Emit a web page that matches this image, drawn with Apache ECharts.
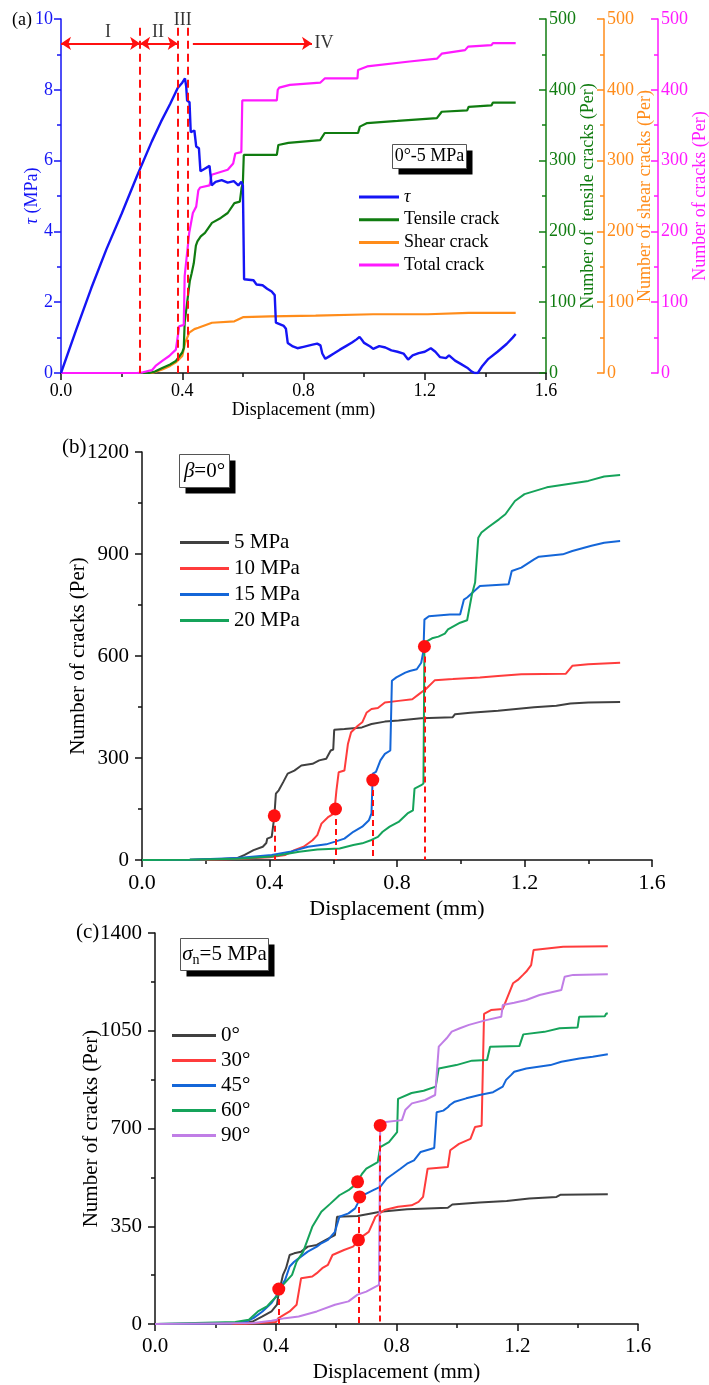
<!DOCTYPE html>
<html>
<head>
<meta charset="utf-8">
<script src="https://cdn.jsdelivr.net/npm/echarts@6/dist/echarts.min.js"></script>
<style>
  html, body { margin: 0; padding: 0; background: #fff; }
  #chart { width: 709px; height: 1385px; }
</style>
</head>
<body>
<div id="chart"></div>
<script>
// ---------- (a) shear stress and crack counts, 0°-5 MPa ----------
const tauCurve = [[0,0],[0.05,1.22],[0.1,2.4],[0.15,3.5],[0.2,4.5],[0.25,5.55],[0.3,6.55],[0.33,7.1],[0.36,7.6],[0.385,8.05],[0.4,8.2],[0.409,8.32],[0.413,8.1],[0.416,7.7],[0.424,7.65],[0.428,6.8],[0.44,6.85],[0.446,6.4],[0.455,6.35],[0.46,5.7],[0.47,5.75],[0.49,5.85],[0.497,5.3],[0.51,5.4],[0.53,5.45],[0.55,5.38],[0.57,5.42],[0.585,5.3],[0.595,5.4],[0.6,5.3],[0.604,2.65],[0.635,2.62],[0.645,2.5],[0.665,2.48],[0.68,2.38],[0.695,2.3],[0.705,2.2],[0.709,1.42],[0.735,1.33],[0.742,1.25],[0.748,0.85],[0.765,0.75],[0.78,0.7],[0.8,0.74],[0.83,0.8],[0.845,0.83],[0.856,0.78],[0.862,0.55],[0.872,0.4],[0.885,0.47],[0.9,0.55],[0.92,0.66],[0.94,0.76],[0.96,0.86],[0.975,0.95],[0.985,1.02],[0.993,0.93],[1.0,0.85],[1.02,0.75],[1.03,0.68],[1.05,0.76],[1.07,0.72],[1.09,0.64],[1.11,0.6],[1.13,0.55],[1.145,0.38],[1.16,0.5],[1.18,0.56],[1.2,0.6],[1.22,0.7],[1.235,0.6],[1.25,0.45],[1.27,0.42],[1.28,0.5],[1.3,0.35],[1.32,0.25],[1.34,0.15],[1.355,0.04],[1.365,0],[1.375,0],[1.39,0.2],[1.41,0.4],[1.44,0.6],[1.47,0.82],[1.49,1.0],[1.5,1.1]];
const tensileCrack = [[0,0],[0.29,0],[0.31,2],[0.334,7],[0.36,12],[0.379,17],[0.4,29],[0.405,35],[0.408,71],[0.416,99],[0.425,130],[0.431,141],[0.438,155],[0.445,180],[0.45,186],[0.461,193],[0.475,198],[0.498,212],[0.527,219],[0.55,226],[0.572,240],[0.59,242],[0.596,262],[0.6,268],[0.603,308],[0.712,308],[0.717,322],[0.75,325],[0.855,329],[0.87,339],[0.98,339],[0.986,348],[1.01,353],[1.11,356],[1.24,360],[1.256,369],[1.34,371],[1.345,376],[1.42,378],[1.425,382],[1.5,382]];
const shearCrack = [[0,0],[0.3,0],[0.334,5],[0.36,10],[0.379,15],[0.4,24],[0.41,43],[0.423,57],[0.44,62],[0.453,64],[0.498,71],[0.572,73],[0.602,79],[0.69,80],[0.84,81],[1.03,83],[1.21,83],[1.345,85],[1.5,85]];
const totalCrack = [[0,0],[0.25,0],[0.27,1],[0.3,4],[0.312,10],[0.334,17],[0.357,24],[0.379,33],[0.39,66],[0.405,68],[0.408,137],[0.423,198],[0.435,226],[0.446,235],[0.453,258],[0.459,262],[0.49,265],[0.497,280],[0.55,287],[0.568,296],[0.575,310],[0.595,312],[0.598,385],[0.712,385],[0.715,400],[0.72,403],[0.755,407],[0.855,410],[0.87,416],[0.978,416],[0.98,428],[1.01,433],[1.15,440],[1.24,444],[1.256,451],[1.333,456],[1.343,461],[1.42,463],[1.425,466],[1.5,466]];
const stageBounds = [0.261, 0.385, 0.418];      // dashed stage boundaries (mm)
const stageLabels = [[0.155,9.62,'I'],[0.32,9.62,'II'],[0.402,9.97,'III'],[0.868,9.31,'IV']];
const stageArrowY = 9.31;
const stageArrowIVFrom = 0.435, stageArrowIVTo = 0.828;
const stageLineTop = 9.75;

// ---------- (b) number of cracks, β = 0° ----------
const stressNames = ['5 MPa','10 MPa','15 MPa','20 MPa'];
const cracks5MPa = [[0,0],[0.15,1],[0.25,3],[0.3,6],[0.322,15],[0.35,29],[0.379,39],[0.39,50],[0.393,63],[0.407,68],[0.412,70],[0.415,127],[0.42,195],[0.429,205],[0.443,229],[0.457,254],[0.478,263],[0.5,278],[0.535,283],[0.556,293],[0.578,298],[0.592,322],[0.6,325],[0.603,383],[0.635,385],[0.69,390],[0.72,400],[0.762,407],[0.805,410],[0.876,417],[0.975,420],[0.982,429],[1.03,433],[1.117,439],[1.23,449],[1.3,454],[1.344,460],[1.4,463],[1.5,465]];
const cracks10MPa = [[0,0],[0.2,1],[0.3,3],[0.4,8],[0.45,15],[0.478,29],[0.507,39],[0.535,58],[0.55,73],[0.563,107],[0.585,127],[0.603,137],[0.61,205],[0.617,258],[0.635,263],[0.646,341],[0.656,376],[0.677,395],[0.691,405],[0.705,434],[0.72,444],[0.74,447],[0.762,463],[0.805,468],[0.848,473],[0.869,488],[0.883,498],[0.89,502],[0.919,529],[0.975,532],[1.06,537],[1.117,541],[1.19,546],[1.33,548],[1.35,571],[1.4,576],[1.5,580]];
const cracks15MPa = [[0,0],[0.15,1],[0.3,6],[0.407,15],[0.464,24],[0.521,39],[0.578,46],[0.606,54],[0.635,63],[0.663,83],[0.691,98],[0.712,117],[0.72,137],[0.724,254],[0.734,259],[0.748,293],[0.762,312],[0.779,322],[0.784,527],[0.798,537],[0.826,551],[0.84,556],[0.862,561],[0.876,580],[0.883,615],[0.886,707],[0.9,717],[0.966,722],[0.998,722],[1.01,766],[1.02,772],[1.06,806],[1.15,811],[1.16,850],[1.19,860],[1.23,884],[1.245,892],[1.32,899],[1.35,909],[1.41,924],[1.45,933],[1.5,938]];
const cracks20MPa = [[0,0],[0.15,1],[0.3,4],[0.407,10],[0.493,24],[0.55,31],[0.62,34],[0.663,44],[0.691,49],[0.72,59],[0.74,68],[0.755,83],[0.777,98],[0.805,112],[0.833,137],[0.85,146],[0.855,210],[0.876,220],[0.883,225],[0.886,631],[0.893,643],[0.91,652],[0.93,657],[0.95,666],[0.96,678],[0.998,698],[1.02,705],[1.035,781],[1.045,816],[1.055,948],[1.065,963],[1.085,978],[1.12,1002],[1.14,1017],[1.17,1056],[1.2,1076],[1.27,1096],[1.4,1115],[1.45,1128],[1.5,1132]];
const peakPointsB = [[0.415,130],[0.607,150],[0.724,235],[0.886,628]];

// ---------- (c) number of cracks, σn = 5 MPa ----------
const angleNames = ['0°','30°','45°','60°','90°'];
const cracks0deg = [[0,0],[0.2,1],[0.3,4],[0.326,10],[0.356,27],[0.386,45],[0.404,69],[0.409,105],[0.424,176],[0.434,200],[0.446,247],[0.461,253],[0.484,259],[0.506,277],[0.536,283],[0.566,301],[0.596,318],[0.603,384],[0.671,387],[0.716,396],[0.746,402],[0.835,411],[0.97,416],[0.985,428],[1.075,435],[1.165,440],[1.24,449],[1.33,455],[1.344,463],[1.5,465]];
const cracks30deg = [[0,0],[0.3,1],[0.401,7],[0.409,21],[0.446,45],[0.469,69],[0.484,164],[0.521,170],[0.536,182],[0.554,200],[0.573,212],[0.588,247],[0.626,265],[0.656,277],[0.674,298],[0.686,313],[0.708,330],[0.723,366],[0.73,384],[0.76,408],[0.805,420],[0.85,425],[0.873,437],[0.888,455],[0.903,556],[0.97,562],[0.978,622],[1.007,645],[1.045,663],[1.06,705],[1.082,710],[1.09,1110],[1.113,1124],[1.152,1128],[1.186,1220],[1.202,1232],[1.219,1250],[1.23,1262],[1.246,1285],[1.254,1339],[1.352,1351],[1.5,1353]];
const cracks45deg = [[0,0],[0.25,2],[0.3,8],[0.326,21],[0.356,45],[0.386,75],[0.401,99],[0.41,120],[0.416,126],[0.431,158],[0.446,206],[0.461,223],[0.476,235],[0.506,259],[0.536,277],[0.551,289],[0.573,301],[0.596,330],[0.611,384],[0.641,396],[0.663,414],[0.671,431],[0.678,455],[0.7,467],[0.723,479],[0.746,491],[0.768,521],[0.79,538],[0.813,556],[0.835,574],[0.858,586],[0.88,616],[0.925,630],[0.933,758],[0.955,764],[0.97,776],[0.977,784],[0.993,796],[1.031,808],[1.075,820],[1.12,830],[1.152,850],[1.163,874],[1.18,892],[1.19,903],[1.23,915],[1.31,927],[1.346,939],[1.406,951],[1.45,957],[1.5,966]];
const cracks60deg = [[0,0],[0.266,7],[0.311,15],[0.341,45],[0.371,63],[0.386,81],[0.409,105],[0.424,140],[0.439,158],[0.454,176],[0.469,223],[0.491,259],[0.521,348],[0.551,402],[0.581,431],[0.611,461],[0.641,479],[0.665,500],[0.671,510],[0.686,538],[0.7,556],[0.738,580],[0.746,633],[0.775,651],[0.802,687],[0.805,806],[0.85,827],[0.89,835],[0.93,850],[0.94,915],[0.998,927],[1.05,943],[1.1,945],[1.11,993],[1.207,995],[1.22,1037],[1.29,1046],[1.34,1059],[1.4,1062],[1.405,1100],[1.49,1102],[1.495,1112],[1.5,1112]];
const cracks90deg = [[0,0],[0.326,4],[0.386,12],[0.431,21],[0.476,27],[0.536,45],[0.596,69],[0.641,81],[0.671,105],[0.7,116],[0.731,134],[0.742,140],[0.746,711],[0.757,722],[0.818,730],[0.829,766],[0.851,790],[0.895,802],[0.928,820],[0.94,993],[0.95,1005],[0.966,1023],[0.983,1047],[1.01,1059],[1.04,1071],[1.097,1088],[1.147,1100],[1.152,1142],[1.19,1150],[1.23,1160],[1.274,1178],[1.31,1187],[1.346,1196],[1.357,1243],[1.385,1250],[1.5,1252]];
const peakPointsC = [[0.41,125],[0.671,509],[0.678,455],[0.674,301],[0.746,711]];
const peakDropC = [[0.41,125],[0.675,455],[0.746,711]];

// ---------- styling ----------
const FONT = "'Liberation Serif', 'Times New Roman', serif";
const C = {
  tau: '#1515f5', tensile: '#107c10', shear: '#ff8c1a', total: '#ff1aff',
  s5: '#404040', s10: '#ff3c3c', s15: '#1466d8', s20: '#15a35a', a90: '#c07ee6',
  mark: '#ff1010', axis: '#111'
};

function xAxisFor(grid, fs, nameGap, margin) {
  return {
    type: 'value', gridIndex: grid, min: 0, max: 1.6, interval: 0.4,
    name: 'Displacement (mm)', nameLocation: 'middle', nameGap: nameGap, nameMoveOverlap: false,
    nameTextStyle: { fontFamily: FONT, fontSize: fs, color: '#000' },
    axisLine: { onZero: false, lineStyle: { color: C.axis, width: 1.5 } },
    axisTick: { length: 7, lineStyle: { color: C.axis, width: 1.5 } },
    minorTick: { show: true, splitNumber: 2, length: 4, lineStyle: { color: C.axis, width: 1.5 } },
    axisLabel: { fontFamily: FONT, fontSize: fs, color: '#000', margin: margin,
                 formatter: v => v.toFixed(1) },
    splitLine: { show: false }
  };
}
function yAxisFor(grid, max, interval, fs, name, nameGap, color, extra) {
  const ax = {
    type: 'value', gridIndex: grid, min: 0, max: max, interval: interval,
    name: name, nameLocation: 'middle', nameGap: nameGap, nameRotate: 90, nameMoveOverlap: false,
    nameTextStyle: { fontFamily: FONT, fontSize: fs, color: color },
    axisLine: { show: true, lineStyle: { color: color, width: 1.5 } },
    axisTick: { show: true, length: 7, lineStyle: { color: color, width: 1.5 } },
    minorTick: { show: true, splitNumber: 2, length: 4, lineStyle: { color: color, width: 1.5 } },
    axisLabel: { fontFamily: FONT, fontSize: fs, color: color, margin: 12 },
    splitLine: { show: false }
  };
  Object.assign(ax, extra || {});
  ax.axisLabel.formatter = v => String(v);
  return ax;
}
function curve(name, data, color, xi, yi, w) {
  return { name: name, type: 'line', data: data, xAxisIndex: xi, yAxisIndex: yi,
           showSymbol: false, symbol: 'none', lineStyle: { color: color, width: w || 2 },
           itemStyle: { color: color }, z: 3, silent: true };
}
function dropLines(points, xi, yi) {
  return { type: 'lines', coordinateSystem: 'cartesian2d', xAxisIndex: xi, yAxisIndex: yi,
           data: points.map(p => ({ coords: [[p[0], p[1]], [p[0], 0]] })),
           lineStyle: { color: C.mark, width: 2, type: [6, 4], opacity: 1 }, symbol: 'none', z: 4, silent: true };
}
function dots(points, xi, yi) {
  return { type: 'scatter', xAxisIndex: xi, yAxisIndex: yi, data: points, symbolSize: 13,
           itemStyle: { color: C.mark, opacity: 1 }, z: 5, silent: true };
}
function boxedNote(x, y, w, h, text, fs) {
  return {
    type: 'group', left: x, top: y, children: [
      { type: 'rect', shape: { x: 6, y: 6, width: w, height: h }, style: { fill: '#000' } },
      { type: 'rect', shape: { x: 0, y: 0, width: w, height: h }, style: { fill: '#fff', stroke: '#555', lineWidth: 1 } },
      { type: 'text', x: w / 2, y: h / 2, style: Object.assign({ align: 'center', verticalAlign: 'middle',
          fontFamily: FONT, fontSize: fs, fill: '#000' }, text) }
    ]
  };
}
function legendFor(names, left, top, fs, gap, w, lh) {
  return {
    data: names, left: left, top: top, orient: 'vertical', itemGap: gap, padding: 0,
    itemWidth: w, itemHeight: 3, icon: 'rect', selectedMode: false,
    textStyle: { fontFamily: FONT, fontSize: fs, color: '#000', lineHeight: lh,
                 rich: { it: { fontFamily: FONT, fontSize: fs, fontStyle: 'italic', lineHeight: lh } } },
    formatter: n => n === 'τ' ? '{it|τ}' : n
  };
}
function blackAxis(fs) {
  return {
    axisLine: { show: true, lineStyle: { color: C.axis, width: 1.5 } },
    axisTick: { show: true, length: 7, lineStyle: { color: C.axis, width: 1.5 } },
    minorTick: { show: true, splitNumber: 2, length: 4, lineStyle: { color: C.axis, width: 1.5 } },
    axisLabel: { fontFamily: FONT, fontSize: fs, color: '#000', margin: 13 }
  };
}
function rightAxis(color, offset) {
  return {
    position: 'right', offset: offset,
    axisTick: { inside: true, length: 7, lineStyle: { color: color, width: 1.5 } },
    minorTick: { show: true, splitNumber: 2, length: 4, lineStyle: { color: color, width: 1.5 } },
    axisLabel: { fontFamily: FONT, fontSize: 18, color: color, margin: 3 }
  };
}

const chart = echarts.init(document.getElementById('chart'), null, { renderer: 'canvas' });

const option = {
  backgroundColor: '#fff',
  animation: false,
  grid: [
    { left: 61, top: 19, width: 485, height: 354, outerBoundsMode: 'none', containLabel: false },
    { left: 142, top: 452, width: 510, height: 408, outerBoundsMode: 'none', containLabel: false },
    { left: 155, top: 933, width: 483, height: 391, outerBoundsMode: 'none', containLabel: false }
  ],
  xAxis: [ xAxisFor(0, 18, 28, 9), xAxisFor(1, 22, 38, 12), xAxisFor(2, 21, 38, 12) ],
  yAxis: [
    yAxisFor(0, 10, 2, 18, '{it|τ} (MPa)', 20, C.tau, {
      nameTextStyle: { fontFamily: FONT, fontSize: 18, color: C.tau,
        rich: { it: { fontFamily: FONT, fontSize: 18, fontStyle: 'italic', color: C.tau } } },
      axisLabel: { fontFamily: FONT, fontSize: 18, color: C.tau, margin: 8 } }),
    yAxisFor(0, 500, 100, 18, 'Number of  tensile cracks (Per)', 33, C.tensile, rightAxis(C.tensile, 0)),
    yAxisFor(0, 500, 100, 18, 'Number of shear cracks (Per)', 32, C.shear, rightAxis(C.shear, 58)),
    yAxisFor(0, 500, 100, 18, 'Number of cracks (Per)', 33, C.total, rightAxis(C.total, 112)),
    yAxisFor(1, 1200, 300, 21, 'Number of cracks (Per)', 53, '#000', blackAxis(21)),
    yAxisFor(2, 1400, 350, 21, 'Number of cracks (Per)', 53, '#000', blackAxis(21))
  ],
  legend: [
    legendFor(['τ','Tensile crack','Shear crack','Total crack'], 359, 188, 18, 4.7, 40, 18),
    legendFor(stressNames, 180, 532, 21, 5, 49, 21),
    legendFor(angleNames, 172, 1025, 21, 4, 44, 21)
  ],
  series: [
    // (a)
    curve('Shear crack', shearCrack, C.shear, 0, 2, 2.2),
    curve('Tensile crack', tensileCrack, C.tensile, 0, 1, 2.2),
    curve('Total crack', totalCrack, C.total, 0, 3, 2.2),
    curve('τ', tauCurve, C.tau, 0, 0, 2.4),
    { type: 'lines', coordinateSystem: 'cartesian2d', xAxisIndex: 0, yAxisIndex: 0, silent: true,
      data: stageBounds.map(x => ({ coords: [[x, stageLineTop], [x, 0]] })),
      lineStyle: { color: C.mark, width: 2, type: [8, 5], opacity: 1 }, symbol: 'none', z: 4 },
    { type: 'lines', coordinateSystem: 'cartesian2d', xAxisIndex: 0, yAxisIndex: 0, silent: true,
      data: [ { coords: [[0, stageArrowY], [stageBounds[0], stageArrowY]] },
              { coords: [[stageBounds[0], stageArrowY], [stageBounds[1], stageArrowY]] } ],
      symbol: ['arrow', 'arrow'], symbolSize: [10, 10],
      lineStyle: { color: C.mark, width: 2, opacity: 1 }, z: 4 },
    { type: 'lines', coordinateSystem: 'cartesian2d', xAxisIndex: 0, yAxisIndex: 0, silent: true,
      data: [ { coords: [[stageArrowIVFrom, stageArrowY], [stageArrowIVTo, stageArrowY]] } ],
      symbol: ['none', 'arrow'], symbolSize: [10, 10],
      lineStyle: { color: C.mark, width: 2, opacity: 1 }, z: 4 },
    { type: 'scatter', xAxisIndex: 0, yAxisIndex: 0, data: stageLabels, symbolSize: 0, silent: true,
      label: { show: true, position: 'inside', formatter: p => p.data[2],
               fontFamily: FONT, fontSize: 18, color: '#000' }, z: 6 },
    // (b)
    curve(stressNames[0], cracks5MPa, C.s5, 1, 4, 2),
    curve(stressNames[1], cracks10MPa, C.s10, 1, 4, 2),
    curve(stressNames[2], cracks15MPa, C.s15, 1, 4, 2),
    curve(stressNames[3], cracks20MPa, C.s20, 1, 4, 2),
    dropLines(peakPointsB, 1, 4),
    dots(peakPointsB, 1, 4),
    // (c)
    curve(angleNames[0], cracks0deg, C.s5, 2, 5, 2),
    curve(angleNames[1], cracks30deg, C.s10, 2, 5, 2),
    curve(angleNames[2], cracks45deg, C.s15, 2, 5, 2),
    curve(angleNames[3], cracks60deg, C.s20, 2, 5, 2),
    curve(angleNames[4], cracks90deg, C.a90, 2, 5, 2),
    dropLines(peakDropC, 2, 5),
    dots(peakPointsC, 2, 5)
  ],
  graphic: [
    { type: 'text', left: 12, top: 11, style: { text: '(a)', fontFamily: FONT, fontSize: 18, fill: '#000' } },
    { type: 'text', left: 62, top: 437, style: { text: '(b)', fontFamily: FONT, fontSize: 21, fill: '#000' } },
    { type: 'text', left: 76, top: 922, style: { text: '(c)', fontFamily: FONT, fontSize: 21, fill: '#000' } },
    boxedNote(392, 144, 74, 24, { text: '0°-5 MPa' }, 18),
    boxedNote(179, 454, 50, 33, { text: '{it|β}=0°', rich: { it: { fontFamily: FONT, fontSize: 21, fontStyle: 'italic' } } }, 21),
    boxedNote(180, 938, 88, 32, { text: '{it|σ}{sub|n}=5 MPa', rich: {
        it: { fontFamily: FONT, fontSize: 21, fontStyle: 'italic' },
        sub: { fontFamily: FONT, fontSize: 14, padding: [12, 0, 0, 0] } } }, 21)
  ]
};
chart.setOption(option);
</script>
</body>
</html>
